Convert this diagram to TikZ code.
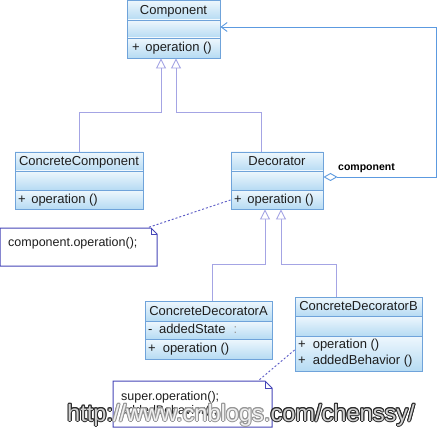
\documentclass[tikz,border=0pt]{standalone}
\usepackage{fontspec}
\setmainfont{Liberation Sans}
\usetikzlibrary{arrows.meta,fit,calc}
\definecolor{bordercol}{HTML}{6FA3DA}
\definecolor{rowtop}{HTML}{EEF7FD}
\definecolor{rowbot}{HTML}{B6DBF3}
\definecolor{genc}{HTML}{A4A4E4}
\definecolor{aggc}{HTML}{5C9AE0}
\definecolor{notec}{HTML}{4646B8}
\definecolor{dashc}{HTML}{5A5AC6}
\definecolor{txt}{HTML}{1E1E1E}
\definecolor{wmdark}{HTML}{2A2A2A}
\definecolor{wmmid}{HTML}{969696}
\definecolor{wmfill}{HTML}{D0D0D0}
\definecolor{wmfilll}{HTML}{F0F0F0}
\tikzset{
  classframe/.style={draw=bordercol, line width=0.9pt, inner sep=0pt},
  rowshade/.style={top color=rowtop, bottom color=rowbot},
  title/.style={font=\fontsize{13}{15}\selectfont, text=txt, inner sep=0pt, anchor=base},
  member/.style={font=\fontsize{13}{15}\selectfont, text=txt, inner sep=0pt, anchor=base west},
  notebox/.style={draw=notec, fill=white, line width=1pt, line join=miter},
  notetext/.style={font=\fontsize{12.5}{14}\selectfont, text=txt, inner sep=0pt, anchor=base west},
  genarrow/.style={draw=genc, line width=0.9pt, -{Triangle[open, length=10pt, width=10pt, fill=white]}},
  agg/.style={draw=aggc, line width=0.9pt, {Diamond[open, length=14pt, width=8pt, fill=white]}-{Straight Barb[length=6pt, width=9pt]}},
  dashline/.style={draw=dashc, line width=0.9pt, dash pattern=on 2pt off 2pt},
  wm/.style={font=\fontsize{23.6}{25}\selectfont, inner sep=0pt, anchor=base west},
}
\newcommand\umlclass[7]{% name, x1, y1, x2, y2, ya, yb
  \shade[rowshade] (#2,#3) rectangle (#4,#6);
  \shade[rowshade] (#2,#6) rectangle (#4,#7);
  \shade[rowshade] (#2,#7) rectangle (#4,#5);
  \draw[bordercol, line width=0.9pt] (#2,#6) -- (#4,#6) (#2,#7) -- (#4,#7);
  \coordinate (#1-nw) at (#2,#3);
  \coordinate (#1-se) at (#4,#5);
  \node[classframe, fit=(#1-nw)(#1-se)] (#1) {};
}
\newcommand\wmstr[2]{\textcolor{#1}{http:}\textcolor{#2}{//www.cnblogs.}\textcolor{#1}{com/chenssy/}}
\begin{document}
\begin{tikzpicture}[x=1pt, y=-1pt]
\useasboundingbox (0,0) rectangle (438,430);
\fill[white] (0,0) rectangle (438,430);

% classes
\umlclass{Component}{127}{0}{220}{58}{20}{38}
\umlclass{CC}{15}{152}{143}{209}{171}{190}
\umlclass{Decorator}{231}{152}{323}{209}{171}{190}
\umlclass{CDA}{145}{301}{272}{359}{321}{339}
\umlclass{CDB}{295}{297}{422}{371}{316}{336}

% generalizations
\coordinate (c1) at (161,112);
\coordinate (c2) at (176,112);
\coordinate (c3) at (265,264);
\coordinate (c4) at (281,264);
\draw[genarrow] (CC.north) |- (c1) -- (c1 |- Component.south);
\draw[genarrow] ([xshift=-16pt]Decorator.north) |- (c2) -- (c2 |- Component.south);
\draw[genarrow] ([xshift=3.5pt]CDA.north) |- (c3) -- (c3 |- Decorator.south);
\draw[genarrow] ([xshift=-22.5pt]CDB.north) |- (c4) -- (c4 |- Decorator.south);

% aggregation
\coordinate (a1) at (436,177);
\coordinate (a2) at (436,27);
\draw[agg] ([yshift=3.5pt]Decorator.east) -- (a1) -- (a2) -- ([yshift=2pt]Component.east);
\node[font=\bfseries\fontsize{10.5}{12}\selectfont, text=black, inner sep=0pt, anchor=base west] (lblcomp) at (338,171) {component};

% notes
\draw[notebox] (0,228) -- (151,228) -- (157,234) -- (157,266) -- (0,266) -- cycle;
\draw[notec, line width=1pt] (151,228) -- (151,234) -- (157,234);
\coordinate (n1-nw) at (0,228); \coordinate (n1-se) at (157,266);
\node[inner sep=0pt, fit=(n1-nw)(n1-se)] (note1) {};
\draw[notebox] (113,381) -- (265,381) -- (272,388) -- (272,427) -- (113,427) -- cycle;
\draw[notec, line width=1pt] (265,381) -- (265,388) -- (272,388);
\coordinate (n2-nw) at (113,381); \coordinate (n2-se) at (272,427);
\node[inner sep=0pt, fit=(n2-nw)(n2-se)] (note2) {};

\draw[dashline] ([yshift=-19.5pt]Decorator.west) -- ([xshift=-10pt]note1.north east);
\draw[dashline] ([yshift=-16pt]CDB.west) -- ([xshift=-14pt]note2.north east);

\node[notetext] (nt1) at (8,246) {component.operation();};
\node[notetext] (nt2) at (121,400) {super.operation();};
\node[notetext] (nt3) at (121,414) {addedBehavior();};

% class texts
\node[title] (tComp) at (173.5,14.5) {Component};
\node[member] (oComp) at (132,52) {+\hspace{5.5pt}operation ()};
\node[title] (tCC) at (79,166) {ConcreteComponent};
\node[member] (oCC) at (18,204) {+\hspace{5.5pt}operation ()};
\node[title] (tDec) at (277,166) {Decorator};
\node[member] (oDec) at (234,204) {+\hspace{5.5pt}operation ()};
\node[title] (tCDA) at (208.5,315) {ConcreteDecoratorA};
\node[member] (aCDA) at (148,333) {-\hspace{6.5pt}addedState\hspace{8pt}\textcolor{black!40}{:}};
\node[member] (oCDA) at (148,352) {+\hspace{7pt}operation ()};
\node[title] (tCDB) at (358.5,310) {ConcreteDecoratorB};
\node[member] (oCDB1) at (298,348) {+\hspace{7pt}operation ()};
\node[member] (oCDB2) at (298,364) {+\hspace{7pt}addedBehavior ()};

% watermark
\foreach \a [count=\i] in {0,30,...,330}
  \node[wm] (wmo\i) at ($(67,421)+(\a:1pt)$) {\wmstr{wmdark}{wmmid}};
\node[wm] (wmtop) at (67,421) {\wmstr{wmfill}{wmfilll}};
\end{tikzpicture}
\end{document}
